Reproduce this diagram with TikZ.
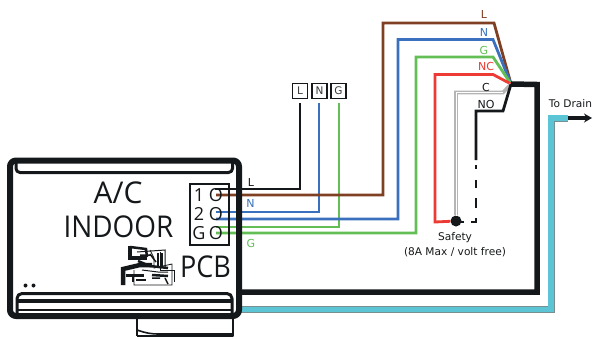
\documentclass[tikz,border=0pt]{standalone}
\usepackage{fontspec}
\usetikzlibrary{arrows.meta}
\setmainfont{DejaVu Sans}
\newfontfamily\bigfont{Open Sans}
\definecolor{wbrown}{HTML}{7F3F22}
\definecolor{wblue}{HTML}{3A70BE}
\definecolor{wgreen}{HTML}{63BE55}
\definecolor{wred}{HTML}{EE3A34}
\definecolor{wcyan}{HTML}{5BC5D5}
\definecolor{wblack}{HTML}{15181A}
\definecolor{wgray}{HTML}{B5B5B5}
\tikzset{
 x=1pt,y=-1pt,
 wire/.style={line width=2.8pt,line join=miter},
 lbl/.style={font=\fontsize{11}{12}\selectfont,inner sep=0pt,text=#1},
 lbl/.default=wblack,
 small/.style={font=\fontsize{10.6}{12}\selectfont,inner sep=0pt,text=wblack},
 big/.style={font=\bigfont\fontsize{#1}{#1}\selectfont,inner sep=0pt,text=wblack},
 house/.style={draw=wblack,line width=#1,line join=round},
 trace/.style={draw=wblack,line width=#1},
 tbox/.style={draw=wblack,line width=1.3pt,minimum size=15pt,inner sep=0pt,font=\fontsize{10.5}{11}\selectfont,text=wblack!85},
}
\begin{document}
\begin{tikzpicture}
\useasboundingbox (0,0) rectangle (593,338);
% named points
\coordinate (hub) at (511,84);
\coordinate (tL) at (215,189);
\coordinate (t1) at (216,195);
\coordinate (t2a) at (216,212);
\coordinate (t2b) at (216,219);
\coordinate (tGa) at (216,227);
\coordinate (tGb) at (216,233);
\coordinate (safety) at (456,221);
\coordinate (houseA) at (238,292);
\coordinate (houseB) at (238,309.5);
\coordinate (drainA) at (568,118);
\coordinate (drainB) at (592,118);
% terminals top
\node[tbox] (bL) at (300,91) {L};
\node[tbox] (bN) at (319.5,91) {N};
\node[tbox] (bG) at (338.5,91) {G};
% safety
\node[circle,fill=wblack,minimum size=11pt,inner sep=0pt] (sd) at (safety) {};
% wires
\draw[wire,wblack] (tL) -- (300,189) -- (300,103);
\draw[wire,wblue] (t2a) -- (319,212) -- (319,103);
\draw[wire,wgreen] (tGa) -- (339,227) -- (339,103);
\draw[wire,wbrown] (t1) -- (383,195) -- (383,23) -- (494,23) -- (hub);
\draw[wire,wblue] (t2b) -- (398,219) -- (398,39.5) -- (493,39.5) -- (hub);
\draw[wire,wgreen] (tGb) -- (416,233) -- (416,57) -- (493,57) -- (hub);
\draw[wire,wred] (sd) -- (435,222) -- (435,74.5) -- (493,74.5) -- (hub);
\draw[line width=3.6pt,wgray] (sd) -- (456,92.5) -- (503,92.5) -- (hub);
\draw[line width=.9pt,white] (456,216) -- (456,92.5) -- (503,92.5);
\draw[wire,wblack] (hub) -- (503,111) -- (476,111) -- (476,160);
\draw[wire,wblack] (476,165) -- (476,168.5) (476,180) -- (476,188) (476,198) -- (476,208);
\draw[wire,wblack] (476,218) -- (476,222) -- (471,222) (464,222) -- (461,222);
% thick black cable
\draw[line width=5.5pt,wblack,line join=miter] (hub) -- (537,84.5) -- (537,292) -- (houseA);
% cyan cable
\draw[line width=7pt,gray!80!wcyan,line join=miter] (houseB) -- (551,309.5) -- (551,118) -- (drainA);
\draw[line width=5.2pt,wcyan,line join=miter] (houseB) -- (551,309.5) -- (551,118) -- (drainA);
\draw[line width=3.5pt,wblack,-{Stealth[length=8pt,width=9pt]}] (drainA) -- (drainB);
% housing
\draw[house=2.5pt] (137,316) -- (137,336);
\draw[house=2pt] (233,316) -- (233,336) -- (137,336);
\draw[house=1.6pt] (137,330) .. controls (146,333) and (150,334) .. (160,334) -- (233,334);
\draw[house=6pt,rounded corners=6pt] (10,316) -- (10,160.5) -- (239,160.5) -- (239,316) -- cycle;
\draw[house=3pt,rounded corners=4pt] (16,161) -- (16,172.5) -- (232.5,172.5) -- (232.5,161);
\draw[house=3pt,rounded corners=5pt] (17,316) -- (17,293.5) -- (232,293.5) -- (232,316);
\draw[house=3.2pt] (17,301) -- (232,301);
\draw[house=1.6pt] (17,310) -- (232,310);
\fill[wblack] (25.5,285.5) circle (2pt) (33.5,285.5) circle (2pt);
% terminal box
\node[draw=wblack,line width=2pt,minimum width=39pt,minimum height=61pt,inner sep=0pt] (tb) at (209,214) {};
\node[big=18] (n1) at (199,195) {1};
\node[big=18] (n2) at (199,214) {2};
\node[big=18] (n3) at (199,233) {G};
\node[big=18] (o1) at (216,195) {O};
\node[big=18] (o2) at (216,214) {O};
\node[big=18] (o3) at (216,233) {O};
% texts
\node[big=30] (ac) at (118,193) {A/C};
\node[big=30,xscale=.93] (in) at (118.5,227) {INDOOR};
\node[big=30,xscale=.9] (pcb) at (205.5,267) {PCB};
% PCB traces
\draw[trace=3.5pt] (130,246) -- (130,258) -- (147,258);
\draw[trace=2.5pt] (130,247) -- (146,249) -- (147,257);
\draw[trace=1pt] (137,252) -- (165,250) -- (165,268);
\draw[trace=.8pt] (150,250) -- (154,258) -- (154,268) -- (172,264) -- (172,285) -- (134,285) -- (134,270);
\draw[trace=.8pt] (160,252) -- (160,270) -- (174,270) -- (174,282);
\draw[trace=4.5pt] (123,285) -- (123,269) -- (140,265) -- (152,265);
\draw[trace=3pt] (126,275) -- (144,275);
\draw[trace=2.5pt] (133,275) -- (133,282);
\draw[trace=2pt] (136,280) -- (146,280);
\draw[trace=2.5pt] (138,261) -- (150,266) -- (168,268);
\draw[trace=2.5pt] (152,275) -- (168,276);
\draw[trace=2.5pt] (158,253) -- (158,266);
\draw[trace=2.5pt] (162,253) -- (162,266);
\draw[trace=1.5pt] (152,278) -- (160,278) (165,278) -- (168,284);
\draw[trace=1pt] (142,270) -- (158,272) -- (168,272);
\draw[trace=1.5pt] (150,254) -- (156,262) (140,255) -- (150,255);
% wire labels
\node[lbl] (lL) at (251,182) {L};
\node[lbl=wblue] (lN) at (250.5,203) {N};
\node[lbl=wgreen] (lG) at (251,243) {G};
\node[lbl=wbrown] (uL) at (484,14.5) {L};
\node[lbl=wblue] (uN) at (484,32.5) {N};
\node[lbl=wgreen] (uG) at (484,50) {G};
\node[lbl=wred] (uNC) at (486,66.5) {NC};
\node[lbl] (uC) at (486,87) {C};
\node[lbl] (uNO) at (486,104) {NO};
\node[small] (dr) at (570.5,103.5) {To Drain};
\node[small] (s1) at (455,238) {Safety};
\node[small] (s2) at (455,252) {(8A Max / volt free)};
\end{tikzpicture}
\end{document}
